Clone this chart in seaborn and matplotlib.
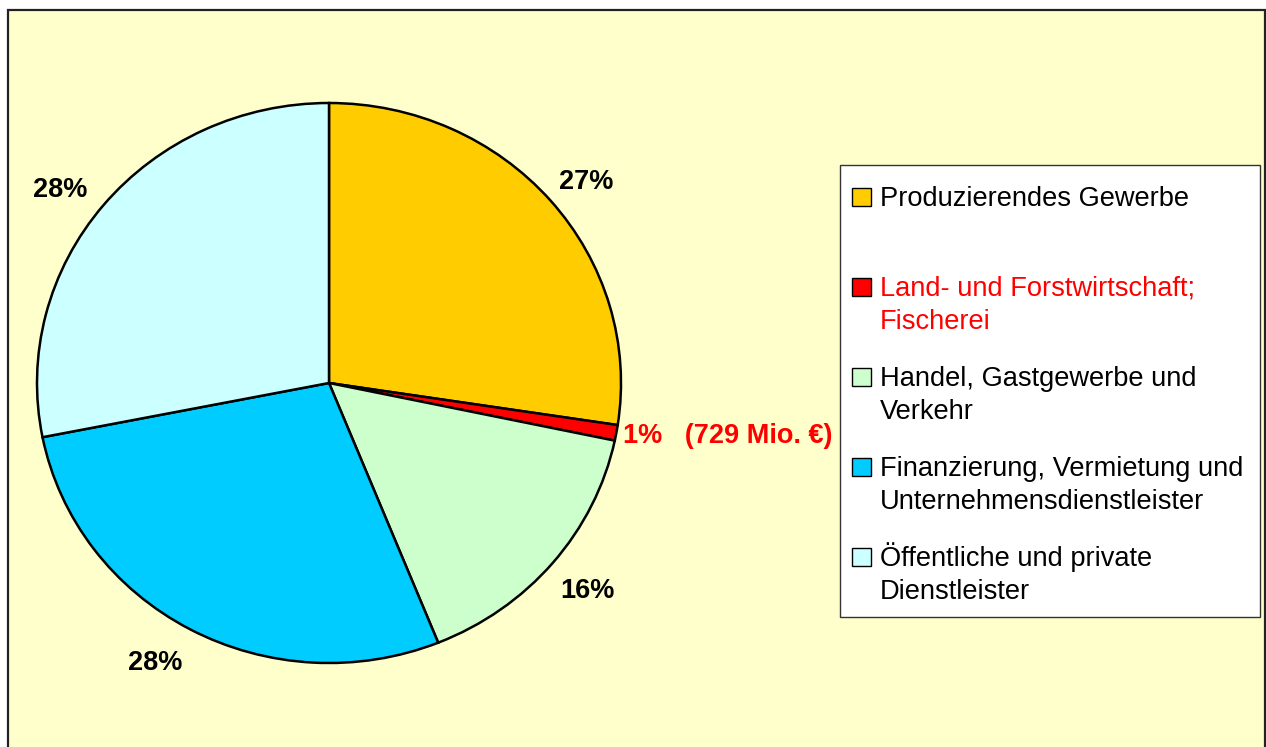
import matplotlib
matplotlib.use("Agg")
import numpy as np
import matplotlib.pyplot as plt
import seaborn as sns
from matplotlib.patches import Rectangle

sns.set_theme(style="white")
plt.rcParams['font.family'] = ['Liberation Sans', 'DejaVu Sans']

# ---- data ----
categories = ["Produzierendes Gewerbe",
              "Land- und Forstwirtschaft;\nFischerei",
              "Handel, Gastgewerbe und\nVerkehr",
              "Finanzierung, Vermietung und\nUnternehmensdienstleister",
              "Öffentliche und private\nDienstleister"]
shares = [27.4, 0.9, 15.6, 28.0, 28.1]
pct_labels = ["27%", "1%   (729 Mio. €)", "16%", "28%", "28%"]
colors = ["#FFCC00", "#FF0000", "#CCFFCC", "#00CCFF", "#CCFFFF"]
text_colors = ["black", "#FF0000", "black", "black", "black"]

# ---- layout ----
label_dist = [1.135, 1.025, 1.155, 1.165, 1.148]
label_dang = [-1.5, -0.3, 0.0, -2.3, 2.6]   # small angular nudges (deg)
label_ha = ["center", "left", "center", "center", "center"]

W, H = 1266, 747
fig = plt.figure(figsize=(W / 100, H / 100), dpi=100, facecolor="white")


def fx(px):
    return px / W


def fy(py):
    return 1 - py / H


# chart area background
fig.add_artist(Rectangle((fx(8), fy(800)), fx(1264.5) - fx(8), fy(10) - fy(800),
                         transform=fig.transFigure, facecolor="#FFFFCC",
                         edgecolor="#222222", lw=1.6, zorder=0))

# pie (slightly elliptical, as in the reference)
ax = fig.add_axes([fx(37), fy(663), (621 - 37) / W, (663 - 103) / H])
ax.set_facecolor("none")
wedges, _ = ax.pie(shares, colors=colors, startangle=90, counterclock=False,
                   wedgeprops=dict(edgecolor="black", linewidth=1.8))
ax.set_aspect("auto")
ax.set_xlim(-1, 1)
ax.set_ylim(-1, 1)
ax.axis("off")

for w, lab, d, da, ha, tc in zip(wedges, pct_labels, label_dist, label_dang,
                                 label_ha, text_colors):
    ang = np.deg2rad((w.theta1 + w.theta2) / 2 + da)
    ax.text(d * np.cos(ang), d * np.sin(ang), lab, ha=ha, va="center",
            fontsize=19.5, fontweight="bold", color=tc, clip_on=False)

# legend box
fig.add_artist(Rectangle((fx(840), fy(617)), fx(1260) - fx(840), fy(165) - fy(617),
                         transform=fig.transFigure, facecolor="white",
                         edgecolor="#333333", lw=1.0, zorder=2))
line_step = 33
for i, (cat, col, tc) in enumerate(zip(categories, colors, text_colors)):
    base = 206 + 90 * i
    nlines = cat.count("\n") + 1
    fig.add_artist(Rectangle((fx(852), fy(base)), fx(871) - fx(852), fy(base - 18) - fy(base),
                             transform=fig.transFigure, facecolor=col,
                             edgecolor="black", lw=1.0, zorder=3))
    fig.text(fx(880), fy(base + line_step * (nlines - 1)), cat, ha="left",
             va="baseline", fontsize=19.6, color=tc, linespacing=1.36, zorder=3)

fig.savefig("out.png", dpi=100, facecolor="white")
